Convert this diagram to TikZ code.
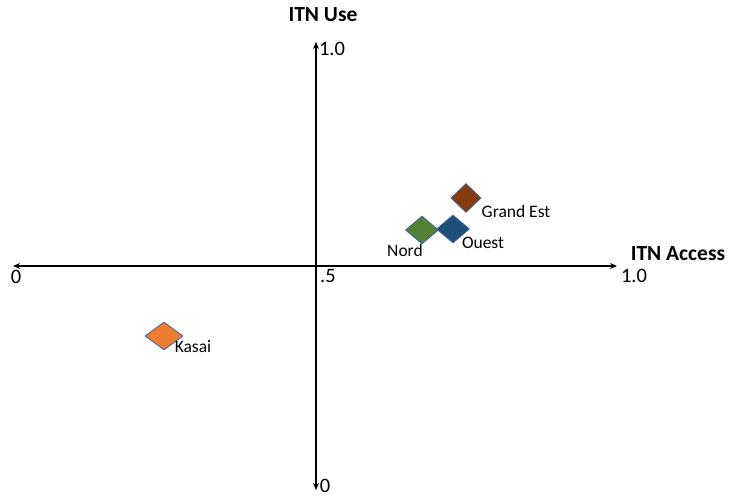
\documentclass[tikz,border=0pt]{standalone}
\usepackage{fontspec}
\setmainfont{Carlito}
\usetikzlibrary{arrows.meta,shapes.geometric}
\definecolor{gebrown}{HTML}{843C0C}
\definecolor{nordgreen}{HTML}{548235}
\definecolor{ouestblue}{HTML}{1F4E79}
\definecolor{kasaiorange}{HTML}{ED7D31}
\definecolor{edgeblue}{HTML}{3E5F9E}
\begin{document}
\begin{tikzpicture}[x=1pt,y=-1pt,
  axis/.style={line width=1.8pt,{Stealth[length=7pt,width=6pt]}-{Stealth[length=7pt,width=6pt]}},
  axlabel/.style={font=\fontsize{21.5}{24}\selectfont\bfseries,inner sep=0pt},
  ticklabel/.style={font=\fontsize{20.5}{23}\selectfont,inner sep=0pt},
  ptlabel/.style={font=\fontsize{17.5}{20}\selectfont,inner sep=0pt},
  region/.style={diamond,draw=edgeblue,line width=0.8pt,inner sep=0pt,minimum width=33pt,minimum height=28pt}]
\useasboundingbox (0,0) rectangle (731,498);
\coordinate (xl) at (13,266);
\coordinate (xr) at (617,266);
\coordinate (yt) at (316,42);
\coordinate (yb) at (316,490);
\draw[axis] (xl) -- (xr);
\draw[axis] (yt) -- (yb);
\node[axlabel] (ulab) at (323,15) {ITN Use};
\node[axlabel] (alab) at (678,254) {ITN Access};
\node[ticklabel] (t10u) at (332,49) {1.0};
\node[ticklabel] (t10a) at (634,276) {1.0};
\node[ticklabel] (t0l) at (16,277) {0};
\node[ticklabel] (t05) at (328,276) {.5};
\node[ticklabel] (t0b) at (325,486) {0};
\node[region,fill=gebrown,minimum width=30pt,minimum height=29pt] (ge) at (466,198) {};
\node[region,fill=nordgreen] (nord) at (422,230) {};
\node[region,fill=ouestblue] (ouest) at (453,229) {};
\node[region,fill=kasaiorange,minimum width=38pt] (kasai) at (164,336) {};
\node[ptlabel] (gel) at (516,211) {Grand Est};
\node[ptlabel] (ol) at (483,243) {Ouest};
\node[ptlabel] (nl) at (405,250) {Nord};
\node[ptlabel] (kl) at (193,347) {Kasai};
\end{tikzpicture}
\end{document}
